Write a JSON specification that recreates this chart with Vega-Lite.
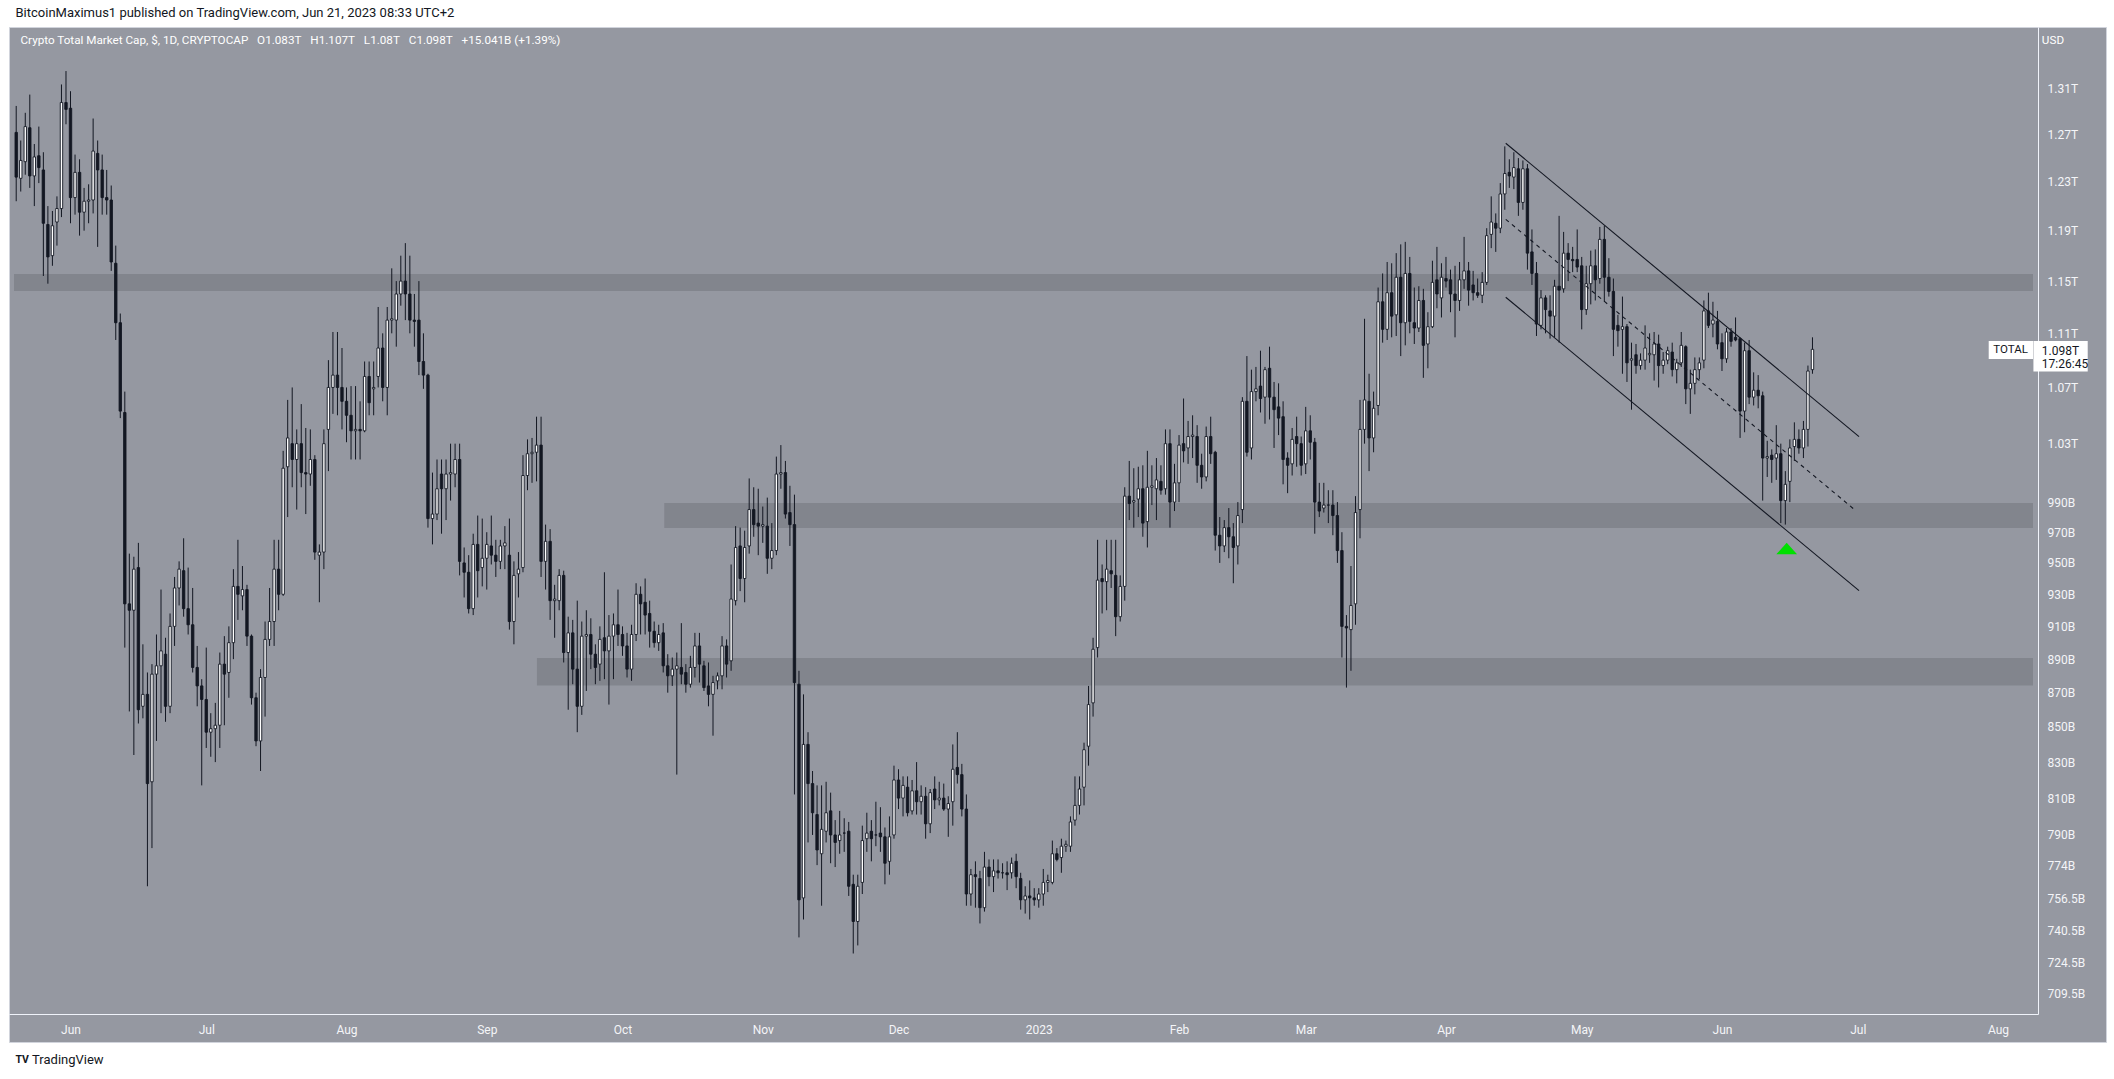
{
"$schema": "https://vega.github.io/schema/vega-lite/v6.json",
"width": 2097, "height": 1015,
"autosize": {"type": "none"},
"padding": {"left": 9, "top": 27, "right": 8, "bottom": 37},
"background": "#ffffff",
"config": {"view": {"fill": "#9598a1", "stroke": "#d1d4dc", "strokeWidth": 1}, "axis": {"grid": false}},
"datasets": {
"bands": [
{"t1":"2022-05-19T12:14:24Z","t2":"2023-08-08T17:45:36Z","lo":1142.3,"hi":1155.5},
{"t1":"2022-10-10T05:30:00Z","t2":"2023-08-08T17:45:36Z","lo":972.8,"hi":989.4},
{"t1":"2022-09-12T02:00:00Z","t2":"2023-08-08T17:45:36Z","lo":874.3,"hi":890.7}
],
"channel": [
{"k":"upper","t1":"2023-04-14T05:00:00Z","v1":1262.7,"t2":"2023-07-01T07:00:00Z","v2":1034.9},
{"k":"lower","t1":"2023-04-14T05:00:00Z","v1":1137.5,"t2":"2023-07-01T07:00:00Z","v2":932.3},
{"k":"mid","t1":"2023-04-14T05:00:00Z","v1":1199.2,"t2":"2023-06-30T14:24:00Z","v2":984.2}
],
"ohlc": [
{"d":"2022-05-20","o":1272,"h":1295,"l":1214,"c":1234},
{"d":"2022-05-21","o":1233,"h":1265,"l":1222,"c":1248},
{"d":"2022-05-22","o":1247,"h":1289,"l":1236,"c":1277},
{"d":"2022-05-23","o":1276,"h":1305,"l":1225,"c":1235},
{"d":"2022-05-24","o":1235,"h":1262,"l":1210,"c":1251},
{"d":"2022-05-25","o":1252,"h":1277,"l":1229,"c":1242},
{"d":"2022-05-26","o":1240,"h":1255,"l":1154,"c":1196},
{"d":"2022-05-27","o":1195,"h":1210,"l":1148,"c":1169},
{"d":"2022-05-28","o":1170,"h":1206,"l":1162,"c":1194},
{"d":"2022-05-29","o":1197,"h":1218,"l":1178,"c":1208},
{"d":"2022-05-30","o":1208,"h":1314,"l":1201,"c":1298},
{"d":"2022-05-31","o":1298,"h":1326,"l":1279,"c":1292},
{"d":"2022-06-01","o":1293,"h":1308,"l":1196,"c":1217},
{"d":"2022-06-02","o":1217,"h":1253,"l":1203,"c":1238},
{"d":"2022-06-03","o":1238,"h":1249,"l":1186,"c":1205},
{"d":"2022-06-04","o":1205,"h":1225,"l":1190,"c":1214},
{"d":"2022-06-05","o":1214,"h":1228,"l":1196,"c":1215},
{"d":"2022-06-06","o":1215,"h":1284,"l":1204,"c":1256},
{"d":"2022-06-07","o":1254,"h":1265,"l":1177,"c":1240},
{"d":"2022-06-08","o":1240,"h":1253,"l":1203,"c":1217},
{"d":"2022-06-09","o":1217,"h":1240,"l":1203,"c":1215},
{"d":"2022-06-10","o":1215,"h":1227,"l":1158,"c":1165},
{"d":"2022-06-11","o":1164,"h":1178,"l":1105,"c":1118},
{"d":"2022-06-12","o":1118,"h":1125,"l":1048,"c":1053},
{"d":"2022-06-13","o":1052,"h":1067,"l":897,"c":924},
{"d":"2022-06-14","o":924,"h":956,"l":859,"c":920},
{"d":"2022-06-15","o":920,"h":954,"l":834,"c":946},
{"d":"2022-06-16","o":947,"h":963,"l":852,"c":860},
{"d":"2022-06-17","o":862,"h":899,"l":855,"c":869},
{"d":"2022-06-18","o":869,"h":882,"l":763,"c":818},
{"d":"2022-06-19","o":819,"h":887,"l":783,"c":881},
{"d":"2022-06-20","o":881,"h":905,"l":842,"c":886},
{"d":"2022-06-21","o":886,"h":933,"l":858,"c":895},
{"d":"2022-06-22","o":893,"h":903,"l":853,"c":862},
{"d":"2022-06-23","o":862,"h":918,"l":858,"c":910},
{"d":"2022-06-24","o":910,"h":941,"l":898,"c":934},
{"d":"2022-06-25","o":934,"h":951,"l":923,"c":946},
{"d":"2022-06-26","o":945,"h":966,"l":916,"c":921},
{"d":"2022-06-27","o":921,"h":947,"l":905,"c":911},
{"d":"2022-06-28","o":911,"h":934,"l":882,"c":885},
{"d":"2022-06-29","o":885,"h":898,"l":862,"c":874},
{"d":"2022-06-30","o":874,"h":878,"l":817,"c":866},
{"d":"2022-07-01","o":866,"h":897,"l":838,"c":847},
{"d":"2022-07-02","o":847,"h":858,"l":833,"c":849},
{"d":"2022-07-03","o":849,"h":864,"l":830,"c":851},
{"d":"2022-07-04","o":851,"h":894,"l":838,"c":887},
{"d":"2022-07-05","o":887,"h":904,"l":851,"c":881},
{"d":"2022-07-06","o":882,"h":910,"l":867,"c":900},
{"d":"2022-07-07","o":900,"h":946,"l":890,"c":935},
{"d":"2022-07-08","o":935,"h":965,"l":914,"c":930},
{"d":"2022-07-09","o":929,"h":948,"l":920,"c":933},
{"d":"2022-07-10","o":933,"h":936,"l":898,"c":904},
{"d":"2022-07-11","o":904,"h":905,"l":863,"c":867},
{"d":"2022-07-12","o":867,"h":870,"l":839,"c":842},
{"d":"2022-07-13","o":842,"h":884,"l":825,"c":879},
{"d":"2022-07-14","o":879,"h":913,"l":856,"c":902},
{"d":"2022-07-15","o":902,"h":934,"l":898,"c":913},
{"d":"2022-07-16","o":913,"h":965,"l":898,"c":946},
{"d":"2022-07-17","o":946,"h":965,"l":920,"c":930},
{"d":"2022-07-18","o":930,"h":1025,"l":929,"c":1013},
{"d":"2022-07-19","o":1014,"h":1061,"l":980,"c":1034},
{"d":"2022-07-20","o":1030,"h":1070,"l":1000,"c":1019},
{"d":"2022-07-21","o":1019,"h":1040,"l":985,"c":1030},
{"d":"2022-07-22","o":1030,"h":1058,"l":1000,"c":1010},
{"d":"2022-07-23","o":1010,"h":1041,"l":982,"c":1009},
{"d":"2022-07-24","o":1009,"h":1040,"l":1001,"c":1019},
{"d":"2022-07-25","o":1019,"h":1022,"l":952,"c":957},
{"d":"2022-07-26","o":955,"h":962,"l":925,"c":957},
{"d":"2022-07-27","o":957,"h":1040,"l":946,"c":1030},
{"d":"2022-07-28","o":1040,"h":1090,"l":1011,"c":1070},
{"d":"2022-07-29","o":1070,"h":1111,"l":1051,"c":1079},
{"d":"2022-07-30","o":1079,"h":1111,"l":1050,"c":1070},
{"d":"2022-07-31","o":1070,"h":1099,"l":1040,"c":1060},
{"d":"2022-08-01","o":1060,"h":1070,"l":1031,"c":1050},
{"d":"2022-08-02","o":1050,"h":1071,"l":1019,"c":1039},
{"d":"2022-08-03","o":1039,"h":1071,"l":1019,"c":1040},
{"d":"2022-08-04","o":1040,"h":1060,"l":1019,"c":1039},
{"d":"2022-08-05","o":1039,"h":1089,"l":1038,"c":1078},
{"d":"2022-08-06","o":1078,"h":1089,"l":1050,"c":1059},
{"d":"2022-08-07","o":1069,"h":1089,"l":1050,"c":1070},
{"d":"2022-08-08","o":1078,"h":1130,"l":1070,"c":1099},
{"d":"2022-08-09","o":1099,"h":1110,"l":1060,"c":1070},
{"d":"2022-08-10","o":1070,"h":1130,"l":1050,"c":1120},
{"d":"2022-08-11","o":1120,"h":1160,"l":1110,"c":1121},
{"d":"2022-08-12","o":1120,"h":1150,"l":1100,"c":1140},
{"d":"2022-08-13","o":1140,"h":1170,"l":1131,"c":1150},
{"d":"2022-08-14","o":1150,"h":1180,"l":1120,"c":1140},
{"d":"2022-08-15","o":1140,"h":1170,"l":1110,"c":1120},
{"d":"2022-08-16","o":1120,"h":1140,"l":1100,"c":1119},
{"d":"2022-08-17","o":1120,"h":1150,"l":1079,"c":1089},
{"d":"2022-08-18","o":1089,"h":1110,"l":1069,"c":1079},
{"d":"2022-08-19","o":1079,"h":1080,"l":973,"c":979},
{"d":"2022-08-20","o":979,"h":1010,"l":962,"c":982},
{"d":"2022-08-21","o":982,"h":1019,"l":978,"c":999},
{"d":"2022-08-22","o":1009,"h":1019,"l":969,"c":999},
{"d":"2022-08-23","o":999,"h":1019,"l":978,"c":1009},
{"d":"2022-08-24","o":1009,"h":1030,"l":991,"c":1010},
{"d":"2022-08-25","o":1009,"h":1030,"l":1000,"c":1019},
{"d":"2022-08-26","o":1019,"h":1030,"l":942,"c":951},
{"d":"2022-08-27","o":950,"h":960,"l":928,"c":944},
{"d":"2022-08-28","o":944,"h":955,"l":918,"c":921},
{"d":"2022-08-29","o":921,"h":969,"l":917,"c":962},
{"d":"2022-08-30","o":962,"h":981,"l":928,"c":945},
{"d":"2022-08-31","o":947,"h":979,"l":935,"c":953},
{"d":"2022-09-01","o":953,"h":970,"l":933,"c":962},
{"d":"2022-09-02","o":961,"h":981,"l":949,"c":955},
{"d":"2022-09-03","o":955,"h":965,"l":941,"c":951},
{"d":"2022-09-04","o":951,"h":965,"l":946,"c":961},
{"d":"2022-09-05","o":961,"h":974,"l":946,"c":963},
{"d":"2022-09-06","o":955,"h":979,"l":908,"c":913},
{"d":"2022-09-07","o":913,"h":951,"l":899,"c":942},
{"d":"2022-09-08","o":943,"h":957,"l":928,"c":946},
{"d":"2022-09-09","o":947,"h":1022,"l":944,"c":1008},
{"d":"2022-09-10","o":1008,"h":1033,"l":998,"c":1023},
{"d":"2022-09-11","o":1023,"h":1034,"l":1003,"c":1024},
{"d":"2022-09-12","o":1024,"h":1049,"l":1004,"c":1029},
{"d":"2022-09-13","o":1029,"h":1049,"l":941,"c":951},
{"d":"2022-09-14","o":951,"h":975,"l":933,"c":964},
{"d":"2022-09-15","o":964,"h":972,"l":914,"c":926},
{"d":"2022-09-16","o":926,"h":936,"l":903,"c":927},
{"d":"2022-09-17","o":926,"h":946,"l":920,"c":942},
{"d":"2022-09-18","o":942,"h":945,"l":888,"c":894},
{"d":"2022-09-19","o":894,"h":916,"l":860,"c":906},
{"d":"2022-09-20","o":906,"h":914,"l":875,"c":884},
{"d":"2022-09-21","o":884,"h":926,"l":847,"c":862},
{"d":"2022-09-22","o":862,"h":913,"l":857,"c":904},
{"d":"2022-09-23","o":904,"h":920,"l":871,"c":905},
{"d":"2022-09-24","o":905,"h":915,"l":884,"c":893},
{"d":"2022-09-25","o":893,"h":899,"l":875,"c":885},
{"d":"2022-09-26","o":887,"h":910,"l":877,"c":902},
{"d":"2022-09-27","o":903,"h":944,"l":878,"c":895},
{"d":"2022-09-28","o":895,"h":917,"l":863,"c":904},
{"d":"2022-09-29","o":904,"h":918,"l":878,"c":911},
{"d":"2022-09-30","o":911,"h":933,"l":898,"c":905},
{"d":"2022-10-01","o":905,"h":910,"l":892,"c":898},
{"d":"2022-10-02","o":898,"h":906,"l":879,"c":884},
{"d":"2022-10-03","o":884,"h":911,"l":877,"c":905},
{"d":"2022-10-04","o":905,"h":937,"l":901,"c":930},
{"d":"2022-10-05","o":930,"h":935,"l":905,"c":924},
{"d":"2022-10-06","o":925,"h":940,"l":905,"c":917},
{"d":"2022-10-07","o":918,"h":926,"l":897,"c":907},
{"d":"2022-10-08","o":907,"h":913,"l":897,"c":900},
{"d":"2022-10-09","o":900,"h":911,"l":895,"c":905},
{"d":"2022-10-10","o":906,"h":912,"l":882,"c":886},
{"d":"2022-10-11","o":886,"h":893,"l":870,"c":880},
{"d":"2022-10-12","o":880,"h":891,"l":874,"c":884},
{"d":"2022-10-13","o":884,"h":894,"l":823,"c":886},
{"d":"2022-10-14","o":885,"h":912,"l":875,"c":881},
{"d":"2022-10-15","o":882,"h":887,"l":870,"c":875},
{"d":"2022-10-16","o":875,"h":892,"l":873,"c":885},
{"d":"2022-10-17","o":885,"h":906,"l":879,"c":898},
{"d":"2022-10-18","o":898,"h":906,"l":876,"c":887},
{"d":"2022-10-19","o":886,"h":889,"l":871,"c":873},
{"d":"2022-10-20","o":874,"h":888,"l":862,"c":869},
{"d":"2022-10-21","o":869,"h":880,"l":845,"c":876},
{"d":"2022-10-22","o":877,"h":882,"l":872,"c":880},
{"d":"2022-10-23","o":880,"h":904,"l":872,"c":898},
{"d":"2022-10-24","o":898,"h":902,"l":879,"c":887},
{"d":"2022-10-25","o":889,"h":949,"l":883,"c":927},
{"d":"2022-10-26","o":926,"h":974,"l":923,"c":960},
{"d":"2022-10-27","o":961,"h":973,"l":932,"c":940},
{"d":"2022-10-28","o":940,"h":971,"l":925,"c":960},
{"d":"2022-10-29","o":961,"h":1006,"l":956,"c":985},
{"d":"2022-10-30","o":985,"h":1000,"l":967,"c":975},
{"d":"2022-10-31","o":976,"h":999,"l":955,"c":974},
{"d":"2022-11-01","o":974,"h":987,"l":963,"c":975},
{"d":"2022-11-02","o":974,"h":993,"l":943,"c":953},
{"d":"2022-11-03","o":953,"h":976,"l":946,"c":958},
{"d":"2022-11-04","o":958,"h":1021,"l":955,"c":1009},
{"d":"2022-11-05","o":1009,"h":1029,"l":999,"c":1010},
{"d":"2022-11-06","o":1010,"h":1018,"l":979,"c":982},
{"d":"2022-11-07","o":983,"h":1001,"l":961,"c":975},
{"d":"2022-11-08","o":975,"h":995,"l":812,"c":876},
{"d":"2022-11-09","o":875,"h":883,"l":737,"c":756},
{"d":"2022-11-10","o":757,"h":869,"l":746,"c":840},
{"d":"2022-11-11","o":840,"h":847,"l":786,"c":818},
{"d":"2022-11-12","o":818,"h":825,"l":790,"c":802},
{"d":"2022-11-13","o":801,"h":817,"l":774,"c":782},
{"d":"2022-11-14","o":780,"h":817,"l":753,"c":793},
{"d":"2022-11-15","o":792,"h":819,"l":786,"c":802},
{"d":"2022-11-16","o":803,"h":813,"l":775,"c":790},
{"d":"2022-11-17","o":790,"h":798,"l":773,"c":786},
{"d":"2022-11-18","o":787,"h":803,"l":780,"c":790},
{"d":"2022-11-19","o":791,"h":799,"l":781,"c":791},
{"d":"2022-11-20","o":792,"h":797,"l":758,"c":763},
{"d":"2022-11-21","o":764,"h":769,"l":729,"c":745},
{"d":"2022-11-22","o":745,"h":769,"l":733,"c":763},
{"d":"2022-11-23","o":765,"h":795,"l":759,"c":787},
{"d":"2022-11-24","o":788,"h":802,"l":781,"c":791},
{"d":"2022-11-25","o":792,"h":798,"l":776,"c":788},
{"d":"2022-11-26","o":790,"h":808,"l":784,"c":790},
{"d":"2022-11-27","o":791,"h":805,"l":781,"c":789},
{"d":"2022-11-28","o":789,"h":794,"l":764,"c":775},
{"d":"2022-11-29","o":776,"h":800,"l":769,"c":789},
{"d":"2022-11-30","o":790,"h":828,"l":788,"c":820},
{"d":"2022-12-01","o":820,"h":826,"l":804,"c":810},
{"d":"2022-12-02","o":810,"h":822,"l":800,"c":817},
{"d":"2022-12-03","o":816,"h":822,"l":800,"c":802},
{"d":"2022-12-04","o":803,"h":820,"l":801,"c":814},
{"d":"2022-12-05","o":814,"h":830,"l":801,"c":808},
{"d":"2022-12-06","o":808,"h":817,"l":801,"c":811},
{"d":"2022-12-07","o":811,"h":816,"l":788,"c":796},
{"d":"2022-12-08","o":796,"h":815,"l":791,"c":813},
{"d":"2022-12-09","o":815,"h":822,"l":804,"c":809},
{"d":"2022-12-10","o":809,"h":819,"l":806,"c":810},
{"d":"2022-12-11","o":810,"h":818,"l":803,"c":804},
{"d":"2022-12-12","o":804,"h":811,"l":789,"c":807},
{"d":"2022-12-13","o":808,"h":840,"l":795,"c":826},
{"d":"2022-12-14","o":827,"h":847,"l":818,"c":823},
{"d":"2022-12-15","o":823,"h":829,"l":800,"c":804},
{"d":"2022-12-16","o":804,"h":812,"l":753,"c":759},
{"d":"2022-12-17","o":759,"h":772,"l":753,"c":769},
{"d":"2022-12-18","o":769,"h":776,"l":752,"c":768},
{"d":"2022-12-19","o":767,"h":771,"l":744,"c":752},
{"d":"2022-12-20","o":752,"h":781,"l":750,"c":773},
{"d":"2022-12-21","o":773,"h":777,"l":763,"c":768},
{"d":"2022-12-22","o":768,"h":777,"l":760,"c":771},
{"d":"2022-12-23","o":771,"h":777,"l":767,"c":770},
{"d":"2022-12-24","o":770,"h":775,"l":767,"c":770},
{"d":"2022-12-25","o":770,"h":776,"l":761,"c":769},
{"d":"2022-12-26","o":770,"h":778,"l":767,"c":775},
{"d":"2022-12-27","o":776,"h":780,"l":762,"c":768},
{"d":"2022-12-28","o":767,"h":770,"l":751,"c":756},
{"d":"2022-12-29","o":756,"h":763,"l":749,"c":758},
{"d":"2022-12-30","o":758,"h":766,"l":746,"c":757},
{"d":"2022-12-31","o":757,"h":762,"l":753,"c":756},
{"d":"2023-01-01","o":756,"h":762,"l":752,"c":759},
{"d":"2023-01-02","o":759,"h":772,"l":753,"c":765},
{"d":"2023-01-03","o":765,"h":769,"l":760,"c":766},
{"d":"2023-01-04","o":765,"h":787,"l":764,"c":780},
{"d":"2023-01-05","o":780,"h":783,"l":776,"c":777},
{"d":"2023-01-06","o":778,"h":788,"l":770,"c":784},
{"d":"2023-01-07","o":784,"h":787,"l":781,"c":785},
{"d":"2023-01-08","o":784,"h":800,"l":781,"c":797},
{"d":"2023-01-09","o":798,"h":822,"l":795,"c":806},
{"d":"2023-01-10","o":806,"h":822,"l":801,"c":815},
{"d":"2023-01-11","o":816,"h":841,"l":806,"c":837},
{"d":"2023-01-12","o":839,"h":874,"l":828,"c":863},
{"d":"2023-01-13","o":864,"h":903,"l":856,"c":896},
{"d":"2023-01-14","o":897,"h":965,"l":891,"c":939},
{"d":"2023-01-15","o":940,"h":949,"l":918,"c":938},
{"d":"2023-01-16","o":938,"h":965,"l":920,"c":946},
{"d":"2023-01-17","o":945,"h":965,"l":934,"c":943},
{"d":"2023-01-18","o":942,"h":965,"l":904,"c":916},
{"d":"2023-01-19","o":916,"h":942,"l":913,"c":935},
{"d":"2023-01-20","o":935,"h":1000,"l":926,"c":994},
{"d":"2023-01-21","o":994,"h":1018,"l":978,"c":989},
{"d":"2023-01-22","o":990,"h":1013,"l":973,"c":991},
{"d":"2023-01-23","o":992,"h":1014,"l":980,"c":999},
{"d":"2023-01-24","o":999,"h":1015,"l":967,"c":976},
{"d":"2023-01-25","o":977,"h":1025,"l":960,"c":1000},
{"d":"2023-01-26","o":1000,"h":1015,"l":988,"c":1001},
{"d":"2023-01-27","o":999,"h":1020,"l":978,"c":1005},
{"d":"2023-01-28","o":1004,"h":1015,"l":995,"c":998},
{"d":"2023-01-29","o":999,"h":1040,"l":995,"c":1030},
{"d":"2023-01-30","o":1030,"h":1040,"l":973,"c":990},
{"d":"2023-01-31","o":990,"h":1016,"l":984,"c":1003},
{"d":"2023-02-01","o":1003,"h":1036,"l":990,"c":1029},
{"d":"2023-02-02","o":1030,"h":1062,"l":1017,"c":1025},
{"d":"2023-02-03","o":1027,"h":1046,"l":1016,"c":1035},
{"d":"2023-02-04","o":1035,"h":1050,"l":1020,"c":1036},
{"d":"2023-02-05","o":1035,"h":1043,"l":1003,"c":1015},
{"d":"2023-02-06","o":1015,"h":1023,"l":999,"c":1007},
{"d":"2023-02-07","o":1007,"h":1042,"l":1004,"c":1035},
{"d":"2023-02-08","o":1035,"h":1049,"l":1016,"c":1023},
{"d":"2023-02-09","o":1024,"h":1025,"l":958,"c":968},
{"d":"2023-02-10","o":968,"h":980,"l":950,"c":961},
{"d":"2023-02-11","o":961,"h":978,"l":957,"c":973},
{"d":"2023-02-12","o":973,"h":986,"l":953,"c":967},
{"d":"2023-02-13","o":967,"h":976,"l":937,"c":960},
{"d":"2023-02-14","o":961,"h":990,"l":949,"c":981},
{"d":"2023-02-15","o":985,"h":1063,"l":976,"c":1060},
{"d":"2023-02-16","o":1060,"h":1093,"l":1021,"c":1024},
{"d":"2023-02-17","o":1027,"h":1083,"l":1019,"c":1067},
{"d":"2023-02-18","o":1067,"h":1085,"l":1060,"c":1069},
{"d":"2023-02-19","o":1071,"h":1097,"l":1052,"c":1062},
{"d":"2023-02-20","o":1063,"h":1085,"l":1044,"c":1083},
{"d":"2023-02-21","o":1084,"h":1100,"l":1047,"c":1063},
{"d":"2023-02-22","o":1063,"h":1074,"l":1027,"c":1054},
{"d":"2023-02-23","o":1056,"h":1073,"l":1036,"c":1048},
{"d":"2023-02-24","o":1049,"h":1060,"l":1002,"c":1019},
{"d":"2023-02-25","o":1020,"h":1024,"l":996,"c":1015},
{"d":"2023-02-26","o":1016,"h":1041,"l":1008,"c":1033},
{"d":"2023-02-27","o":1035,"h":1049,"l":1014,"c":1030},
{"d":"2023-02-28","o":1030,"h":1035,"l":1008,"c":1015},
{"d":"2023-03-01","o":1016,"h":1056,"l":1009,"c":1039},
{"d":"2023-03-02","o":1039,"h":1050,"l":1019,"c":1031},
{"d":"2023-03-03","o":1031,"h":1034,"l":969,"c":990},
{"d":"2023-03-04","o":990,"h":1003,"l":980,"c":984},
{"d":"2023-03-05","o":986,"h":1003,"l":983,"c":988},
{"d":"2023-03-06","o":988,"h":998,"l":976,"c":988},
{"d":"2023-03-07","o":988,"h":998,"l":968,"c":981},
{"d":"2023-03-08","o":981,"h":990,"l":950,"c":958},
{"d":"2023-03-09","o":958,"h":970,"l":891,"c":910},
{"d":"2023-03-10","o":910,"h":917,"l":873,"c":909},
{"d":"2023-03-11","o":908,"h":948,"l":883,"c":923},
{"d":"2023-03-12","o":924,"h":994,"l":911,"c":983},
{"d":"2023-03-13","o":985,"h":1061,"l":966,"c":1040},
{"d":"2023-03-14","o":1040,"h":1121,"l":1030,"c":1061},
{"d":"2023-03-15","o":1060,"h":1080,"l":1011,"c":1034},
{"d":"2023-03-16","o":1034,"h":1067,"l":1024,"c":1055},
{"d":"2023-03-17","o":1057,"h":1145,"l":1050,"c":1134},
{"d":"2023-03-18","o":1134,"h":1156,"l":1103,"c":1113},
{"d":"2023-03-19","o":1113,"h":1165,"l":1105,"c":1141},
{"d":"2023-03-20","o":1141,"h":1164,"l":1107,"c":1123},
{"d":"2023-03-21","o":1124,"h":1172,"l":1108,"c":1153},
{"d":"2023-03-22","o":1153,"h":1179,"l":1093,"c":1118},
{"d":"2023-03-23","o":1118,"h":1181,"l":1101,"c":1156},
{"d":"2023-03-24","o":1156,"h":1169,"l":1110,"c":1119},
{"d":"2023-03-25","o":1118,"h":1145,"l":1102,"c":1114},
{"d":"2023-03-26","o":1114,"h":1146,"l":1111,"c":1135},
{"d":"2023-03-27","o":1135,"h":1144,"l":1077,"c":1101},
{"d":"2023-03-28","o":1102,"h":1126,"l":1084,"c":1115},
{"d":"2023-03-29","o":1115,"h":1166,"l":1114,"c":1149},
{"d":"2023-03-30","o":1151,"h":1177,"l":1129,"c":1140},
{"d":"2023-03-31","o":1137,"h":1164,"l":1122,"c":1153},
{"d":"2023-04-01","o":1152,"h":1169,"l":1145,"c":1150},
{"d":"2023-04-02","o":1151,"h":1159,"l":1126,"c":1140},
{"d":"2023-04-03","o":1140,"h":1162,"l":1107,"c":1135},
{"d":"2023-04-04","o":1135,"h":1165,"l":1127,"c":1151},
{"d":"2023-04-05","o":1151,"h":1185,"l":1144,"c":1158},
{"d":"2023-04-06","o":1158,"h":1165,"l":1131,"c":1143},
{"d":"2023-04-07","o":1147,"h":1158,"l":1135,"c":1141},
{"d":"2023-04-08","o":1141,"h":1152,"l":1137,"c":1139},
{"d":"2023-04-09","o":1139,"h":1157,"l":1133,"c":1149},
{"d":"2023-04-10","o":1149,"h":1192,"l":1147,"c":1186},
{"d":"2023-04-11","o":1187,"h":1218,"l":1176,"c":1197},
{"d":"2023-04-12","o":1196,"h":1204,"l":1173,"c":1192},
{"d":"2023-04-13","o":1192,"h":1229,"l":1188,"c":1220},
{"d":"2023-04-14","o":1220,"h":1260,"l":1207,"c":1237},
{"d":"2023-04-15","o":1238,"h":1249,"l":1225,"c":1235},
{"d":"2023-04-16","o":1234,"h":1255,"l":1224,"c":1242},
{"d":"2023-04-17","o":1241,"h":1250,"l":1202,"c":1213},
{"d":"2023-04-18","o":1213,"h":1248,"l":1207,"c":1241},
{"d":"2023-04-19","o":1241,"h":1245,"l":1159,"c":1172},
{"d":"2023-04-20","o":1173,"h":1191,"l":1147,"c":1156},
{"d":"2023-04-21","o":1156,"h":1165,"l":1108,"c":1117},
{"d":"2023-04-22","o":1116,"h":1143,"l":1113,"c":1137},
{"d":"2023-04-23","o":1137,"h":1139,"l":1110,"c":1128},
{"d":"2023-04-24","o":1127,"h":1139,"l":1106,"c":1123},
{"d":"2023-04-25","o":1123,"h":1151,"l":1107,"c":1146},
{"d":"2023-04-26","o":1146,"h":1202,"l":1103,"c":1143},
{"d":"2023-04-27","o":1144,"h":1189,"l":1141,"c":1172},
{"d":"2023-04-28","o":1172,"h":1180,"l":1150,"c":1167},
{"d":"2023-04-29","o":1167,"h":1177,"l":1157,"c":1166},
{"d":"2023-04-30","o":1167,"h":1191,"l":1157,"c":1161},
{"d":"2023-05-01","o":1162,"h":1169,"l":1113,"c":1128},
{"d":"2023-05-02","o":1128,"h":1162,"l":1124,"c":1148},
{"d":"2023-05-03","o":1148,"h":1174,"l":1132,"c":1162},
{"d":"2023-05-04","o":1162,"h":1175,"l":1135,"c":1151},
{"d":"2023-05-05","o":1152,"h":1193,"l":1148,"c":1183},
{"d":"2023-05-06","o":1183,"h":1194,"l":1134,"c":1153},
{"d":"2023-05-07","o":1153,"h":1168,"l":1138,"c":1142},
{"d":"2023-05-08","o":1142,"h":1152,"l":1093,"c":1113},
{"d":"2023-05-09","o":1116,"h":1124,"l":1100,"c":1112},
{"d":"2023-05-10","o":1113,"h":1138,"l":1080,"c":1115},
{"d":"2023-05-11","o":1115,"h":1117,"l":1074,"c":1088},
{"d":"2023-05-12","o":1090,"h":1103,"l":1054,"c":1091},
{"d":"2023-05-13","o":1094,"h":1102,"l":1080,"c":1086},
{"d":"2023-05-14","o":1086,"h":1095,"l":1083,"c":1090},
{"d":"2023-05-15","o":1090,"h":1116,"l":1083,"c":1099},
{"d":"2023-05-16","o":1094,"h":1110,"l":1088,"c":1095},
{"d":"2023-05-17","o":1094,"h":1111,"l":1075,"c":1102},
{"d":"2023-05-18","o":1102,"h":1109,"l":1070,"c":1086},
{"d":"2023-05-19","o":1086,"h":1096,"l":1080,"c":1090},
{"d":"2023-05-20","o":1090,"h":1100,"l":1087,"c":1097},
{"d":"2023-05-21","o":1096,"h":1103,"l":1078,"c":1083},
{"d":"2023-05-22","o":1083,"h":1091,"l":1073,"c":1088},
{"d":"2023-05-23","o":1088,"h":1111,"l":1085,"c":1101},
{"d":"2023-05-24","o":1100,"h":1101,"l":1058,"c":1069},
{"d":"2023-05-25","o":1069,"h":1083,"l":1051,"c":1073},
{"d":"2023-05-26","o":1073,"h":1092,"l":1065,"c":1083},
{"d":"2023-05-27","o":1083,"h":1092,"l":1076,"c":1088},
{"d":"2023-05-28","o":1090,"h":1135,"l":1084,"c":1127},
{"d":"2023-05-29","o":1127,"h":1141,"l":1114,"c":1116},
{"d":"2023-05-30","o":1117,"h":1134,"l":1107,"c":1120},
{"d":"2023-05-31","o":1119,"h":1127,"l":1098,"c":1102},
{"d":"2023-06-01","o":1103,"h":1110,"l":1082,"c":1091},
{"d":"2023-06-02","o":1091,"h":1114,"l":1088,"c":1111},
{"d":"2023-06-03","o":1111,"h":1114,"l":1100,"c":1104},
{"d":"2023-06-04","o":1107,"h":1122,"l":1104,"c":1105},
{"d":"2023-06-05","o":1106,"h":1107,"l":1034,"c":1053},
{"d":"2023-06-06","o":1053,"h":1103,"l":1038,"c":1097},
{"d":"2023-06-07","o":1097,"h":1105,"l":1058,"c":1063},
{"d":"2023-06-08","o":1063,"h":1081,"l":1057,"c":1068},
{"d":"2023-06-09","o":1068,"h":1079,"l":1055,"c":1064},
{"d":"2023-06-10","o":1064,"h":1067,"l":991,"c":1020},
{"d":"2023-06-11","o":1020,"h":1032,"l":1007,"c":1021},
{"d":"2023-06-12","o":1022,"h":1026,"l":1003,"c":1019},
{"d":"2023-06-13","o":1020,"h":1043,"l":1005,"c":1023},
{"d":"2023-06-14","o":1023,"h":1030,"l":976,"c":991},
{"d":"2023-06-15","o":991,"h":1011,"l":975,"c":1002},
{"d":"2023-06-16","o":1004,"h":1033,"l":990,"c":1027},
{"d":"2023-06-17","o":1028,"h":1045,"l":1018,"c":1033},
{"d":"2023-06-18","o":1033,"h":1040,"l":1023,"c":1027},
{"d":"2023-06-19","o":1027,"h":1046,"l":1020,"c":1040},
{"d":"2023-06-20","o":1040,"h":1086,"l":1028,"c":1082},
{"d":"2023-06-21","o":1083,"h":1107,"l":1080,"c":1098}
]
},
"layer": [
{"data": {"name": "bands"},
 "mark": {"type": "rect", "color": "#82858d"},
 "encoding": {
  "x": {"field": "t1", "type": "temporal", "title": null, "scale": {"type": "utc", "domain": [1652962464000, 1691516736000], "range": [0, 2029], "nice": false},
        "axis": {"orient": "bottom", "offset": -28, "title": null, "ticks": false, "grid": false, "labelPadding": 15, "labelBaseline": "middle", "labelAlign": "center", "labelColor": "#f4f5f8", "labelFontSize": 12, "labelFont": "Roboto, sans-serif", "labelOverlap": false, "labelFlush": false, "labelBound": false, "domainColor": "#f0f3fa", "domainWidth": 1,
                 "values": [1654041600000, 1656633600000, 1659312000000, 1661990400000, 1664582400000, 1667260800000, 1669852800000, 1672531200000, 1675209600000, 1677628800000, 1680307200000, 1682899200000, 1685577600000, 1688169600000, 1690848000000],
                 "labelExpr": "utcFormat(datum.value, '%m') == '01' ? utcFormat(datum.value, '%Y') : utcFormat(datum.value, '%b')"}},
  "x2": {"field": "t2"},
  "y": {"field": "lo", "type": "quantitative", "title": null, "scale": {"type": "log", "domain": [699.7, 1366.2], "range": [987, 0], "nice": false},
        "axis": {"orient": "right", "offset": -68, "title": null, "ticks": false, "grid": false, "labelPadding": 9, "labelAlign": "left", "labelBaseline": "middle", "labelColor": "#f4f5f8", "labelFontSize": 12, "labelFont": "Roboto, sans-serif", "labelOverlap": false, "labelFlush": false, "labelBound": false, "domainColor": "#f0f3fa", "domainWidth": 1,
                 "values": [709.5, 724.5, 740.5, 756.5, 774, 790, 810, 830, 850, 870, 890, 910, 930, 950, 970, 990, 1030, 1070, 1110, 1150, 1190, 1230, 1270, 1310],
                 "labelExpr": "datum.value >= 1000 ? format(datum.value / 1000, '.2f') + 'T' : format(datum.value, '.1~f') + 'B'"}},
  "y2": {"field": "hi"}}},
{"data": {"name": "ohlc"},
 "mark": {"type": "rule", "color": "#131722", "strokeWidth": 1},
 "encoding": {
  "x": {"field": "d", "type": "temporal", "title": null, "scale": {"type": "utc", "domain": [1652962464000, 1691516736000], "range": [0, 2029], "nice": false}},
  "y": {"field": "l", "type": "quantitative", "title": null, "scale": {"type": "log", "domain": [699.7, 1366.2], "range": [987, 0], "nice": false}},
  "y2": {"field": "h"}}},
{"data": {"name": "ohlc"},
 "mark": {"type": "bar", "width": 2.4, "stroke": "#131722", "strokeWidth": 0.9},
 "encoding": {
  "x": {"field": "d", "type": "temporal", "title": null, "scale": {"type": "utc", "domain": [1652962464000, 1691516736000], "range": [0, 2029], "nice": false}},
  "y": {"field": "o", "type": "quantitative", "title": null, "scale": {"type": "log", "domain": [699.7, 1366.2], "range": [987, 0], "nice": false}},
  "y2": {"field": "c"},
  "fill": {"condition": {"test": "datum.c >= datum.o", "value": "#ffffff"}, "value": "#131722"}}},
{"data": {"name": "channel"},
 "transform": [{"filter": "datum.k != 'mid'"}],
 "mark": {"type": "rule", "color": "#131722", "strokeWidth": 1.1},
 "encoding": {
  "x": {"field": "t1", "type": "temporal", "title": null, "scale": {"type": "utc", "domain": [1652962464000, 1691516736000], "range": [0, 2029], "nice": false}},
  "x2": {"field": "t2"},
  "y": {"field": "v1", "type": "quantitative", "title": null, "scale": {"type": "log", "domain": [699.7, 1366.2], "range": [987, 0], "nice": false}},
  "y2": {"field": "v2"}}},
{"data": {"name": "channel"},
 "transform": [{"filter": "datum.k == 'mid'"}],
 "mark": {"type": "rule", "color": "#131722", "strokeWidth": 1.1, "strokeDash": [4, 4]},
 "encoding": {
  "x": {"field": "t1", "type": "temporal", "title": null, "scale": {"type": "utc", "domain": [1652962464000, 1691516736000], "range": [0, 2029], "nice": false}},
  "x2": {"field": "t2"},
  "y": {"field": "v1", "type": "quantitative", "title": null, "scale": {"type": "log", "domain": [699.7, 1366.2], "range": [987, 0], "nice": false}},
  "y2": {"field": "v2"}}},
{"data": {"values": [{"t": "2023-06-15T07:12:00Z", "v": 959.3}]},
 "mark": {"type": "point", "shape": "M-1,0.56L0,-0.56L1,0.56Z", "size": 430, "filled": true, "color": "#00e000", "opacity": 1, "strokeWidth": 0},
 "encoding": {
  "x": {"field": "t", "type": "temporal", "title": null, "scale": {"type": "utc", "domain": [1652962464000, 1691516736000], "range": [0, 2029], "nice": false}},
  "y": {"field": "v", "type": "quantitative", "title": null, "scale": {"type": "log", "domain": [699.7, 1366.2], "range": [987, 0], "nice": false}}}},
{"data": {"values": [{"t1": "2023-07-29T22:48:00Z", "t2": "2023-08-08T17:45:36Z", "lo": 1090.9, "hi": 1104.2}, {"t1": "2023-08-08T20:00:00Z", "t2": "2023-08-20T20:00:00Z", "lo": 1081.6, "hi": 1104.2}]},
 "mark": {"type": "rect", "color": "#ffffff"},
 "encoding": {
  "x": {"field": "t1", "type": "temporal", "title": null, "scale": {"type": "utc", "domain": [1652962464000, 1691516736000], "range": [0, 2029], "nice": false}},
  "x2": {"field": "t2"},
  "y": {"field": "lo", "type": "quantitative", "title": null, "scale": {"type": "log", "domain": [699.7, 1366.2], "range": [987, 0], "nice": false}},
  "y2": {"field": "hi"}}},
{"data": {"values": [{"t": "2023-08-03T19:12:00Z", "v": 1097.5, "txt": "TOTAL"}]},
 "mark": {"type": "text", "align": "center", "baseline": "middle", "fontSize": 11.5, "font": "Roboto, sans-serif", "color": "#131722"},
 "encoding": {
  "x": {"field": "t", "type": "temporal", "title": null, "scale": {"type": "utc", "domain": [1652962464000, 1691516736000], "range": [0, 2029], "nice": false}},
  "y": {"field": "v", "type": "quantitative", "title": null, "scale": {"type": "log", "domain": [699.7, 1366.2], "range": [987, 0], "nice": false}},
  "text": {"field": "txt"}}},
{"data": {"values": [{"t": "2023-08-10T16:48:00Z", "v": 1096.8, "txt": "1.098T"}, {"t": "2023-08-10T16:48:00Z", "v": 1087.0, "txt": "17:26:45"}]},
 "mark": {"type": "text", "align": "left", "baseline": "middle", "fontSize": 12, "font": "Roboto, sans-serif", "color": "#131722"},
 "encoding": {
  "x": {"field": "t", "type": "temporal", "title": null, "scale": {"type": "utc", "domain": [1652962464000, 1691516736000], "range": [0, 2029], "nice": false}},
  "y": {"field": "v", "type": "quantitative", "title": null, "scale": {"type": "log", "domain": [699.7, 1366.2], "range": [987, 0], "nice": false}},
  "text": {"field": "txt"}}},
{"data": {"values": [{"t": "2022-05-20T22:30:00Z", "v": 1353.8, "txt": "Crypto Total Market Cap, $, 1D, CRYPTOCAP\u2002 O1.083T\u2002 H1.107T\u2002 L1.08T\u2002 C1.098T\u2002 +15.041B (+1.39%)"}, {"t": "2023-08-10T16:48:00Z", "v": 1353.8, "txt": "USD"}]},
 "mark": {"type": "text", "align": "left", "baseline": "middle", "fontSize": 11.7, "font": "Roboto, sans-serif", "color": "#ffffff"},
 "encoding": {
  "x": {"field": "t", "type": "temporal", "title": null, "scale": {"type": "utc", "domain": [1652962464000, 1691516736000], "range": [0, 2029], "nice": false}},
  "y": {"field": "v", "type": "quantitative", "title": null, "scale": {"type": "log", "domain": [699.7, 1366.2], "range": [987, 0], "nice": false}},
  "text": {"field": "txt"}}},
{"data": {"values": [{"t": "2022-05-19T20:10:00Z", "v": 1378.8, "txt": "BitcoinMaximus1 published on TradingView.com, Jun 21, 2023 08:33 UTC+2"}, {"t": "2022-05-23T12:00:00Z", "v": 678.2, "txt": "TradingView"}]},
 "mark": {"type": "text", "align": "left", "baseline": "middle", "fontSize": 13, "font": "Roboto, sans-serif", "color": "#131722"},
 "encoding": {
  "x": {"field": "t", "type": "temporal", "title": null, "scale": {"type": "utc", "domain": [1652962464000, 1691516736000], "range": [0, 2029], "nice": false}},
  "y": {"field": "v", "type": "quantitative", "title": null, "scale": {"type": "log", "domain": [699.7, 1366.2], "range": [987, 0], "nice": false}},
  "text": {"field": "txt"}}},
{"data": {"values": [{"t": "2022-05-19T20:10:00Z", "v": 678.2, "txt": "TV"}]},
 "mark": {"type": "text", "align": "left", "baseline": "middle", "fontSize": 10.5, "fontWeight": "bold", "font": "Roboto, sans-serif", "color": "#131722"},
 "encoding": {
  "x": {"field": "t", "type": "temporal", "title": null, "scale": {"type": "utc", "domain": [1652962464000, 1691516736000], "range": [0, 2029], "nice": false}},
  "y": {"field": "v", "type": "quantitative", "title": null, "scale": {"type": "log", "domain": [699.7, 1366.2], "range": [987, 0], "nice": false}},
  "text": {"field": "txt"}}}
]
}
